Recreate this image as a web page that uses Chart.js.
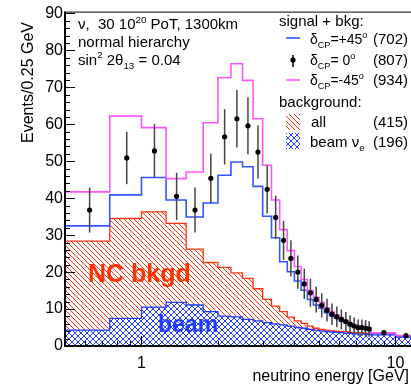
<!DOCTYPE html>
<html>
<head>
<meta charset="utf-8">
<script src="https://cdn.jsdelivr.net/npm/chart.js@4.4.1/dist/chart.umd.min.js"></script>
<style>
  html, body { margin: 0; padding: 0; background: #fff; overflow: hidden; }
  #wrap { width: 411px; height: 390px; overflow: hidden; }
</style>
</head>
<body>
<div id="wrap"><canvas id="chart" width="420" height="390"></canvas></div>
<script>
// bin edges in GeV: 0.25 GeV bins up to 8, then two wide bins
const binEdges = [0.5, 0.75, 1.0, 1.25, 1.5, 1.75, 2.0, 2.25, 2.5, 2.75, 3.0, 3.25, 3.5, 3.75, 4.0,
  4.25, 4.5, 4.75, 5.0, 5.25, 5.5, 5.75, 6.0, 6.25, 6.5, 6.75, 7.0, 7.25, 7.5, 7.75, 8.0, 10, 12];

// signal + bkg, events / 0.25 GeV
const plus45 = [32.5, 40.9, 45.6, 39.5, 34.9, 38.7, 46.2, 49.8, 48.5, 43.2, 35.1, 29.3, 22.8, 20.1, 17.6, 15.1,
  12.6, 11.1, 10.2, 9.0, 8.1, 7.5, 6.8, 6.3, 5.7, 5.2, 5.0, 5.0, 4.9, 4.7, 3.2, 2.5];
const minus45 = [41.7, 62.2, 59.1, 45.3, 47.1, 60.4, 72.6, 76.4, 71.9, 61.5, 48.9, 39.5, 31.5, 25.8, 21.5, 18.0,
  15.0, 13.2, 11.8, 10.3, 9.2, 8.4, 7.6, 6.9, 6.2, 5.7, 5.4, 5.3, 5.2, 5.0, 3.6, 2.8];
const zero = [36.8, 50.9, 52.8, 40.5, 36.8, 45.4, 56.6, 61.5, 59.6, 52.5, 42.4, 34.8, 28.6, 23.7, 20.0, 16.8,
  14.4, 12.6, 11.0, 9.7, 8.6, 7.9, 7.2, 6.6, 5.9, 5.4, 5.0, 5.0, 4.8, 4.6, 3.6, 2.8];
const zeroErr = [6.1, 7.1, 7.3, 6.4, 6.1, 6.7, 7.5, 7.8, 7.7, 7.2, 6.5, 5.9, 5.3, 4.9, 4.5, 4.1,
  3.8, 3.5, 3.3, 3.1, 2.9, 2.8, 2.7, 2.6, 2.4, 2.3, 2.2, 2.2, 2.2, 2.1, 0.7, 0.6];

// backgrounds
const bkgAll = [28.4, 34.5, 36.3, 33.2, 26.2, 22.6, 21.3, 19.8, 18.3, 15.5, 12.6, 10.8, 9.3, 7.8, 6.8, 6.1,
  5.4, 4.8, 4.5, 4.3, 4.1, 4.0, 3.9, 3.9, 3.7, 3.6, 3.6, 3.6, 3.4, 3.4, 3.2, 2.5];
const bkgBeam = [4.3, 7.5, 10.5, 11.8, 11.1, 9.3, 8.1, 7.9, 7.2, 6.8, 6.3, 6.0, 5.7, 5.4, 5.0, 4.8,
  4.5, 4.3, 4.1, 3.9, 3.8, 3.7, 3.6, 3.5, 3.4, 3.3, 3.3, 3.2, 3.2, 3.1, 3.0, 2.4];

const xTickLabels = [1, 10];
const yTickLabels = [0, 10, 20, 30, 40, 50, 60, 70, 80, 90];

const FONT = '"Liberation Sans", Arial, Helvetica, sans-serif';
const BLUE = '#3355ff';
const MAGENTA = '#ff55ff';
const RED = '#ff3311';
const XBLUE = '#1f3cff';

// histogram as step line: one point per edge, value of the bin to its left
function histPoints(vals) {
  return binEdges.map((e, i) => ({ x: e, y: vals[Math.max(i - 1, 0)] }));
}
function centers() {
  return zero.map((v, i) => ({ x: (binEdges[i] + binEdges[i + 1]) / 2, y: v }));
}

function hatch(color, size, cross, bg) {
  const c = document.createElement('canvas');
  c.width = c.height = size;
  const g = c.getContext('2d');
  if (bg) { g.fillStyle = bg; g.fillRect(0, 0, size, size); }
  g.strokeStyle = color;
  g.lineWidth = 1;
  g.beginPath();
  g.moveTo(-1, -1); g.lineTo(size + 1, size + 1);
  g.moveTo(-1, size - 1); g.lineTo(1, size + 1);
  g.moveTo(size - 1, -1); g.lineTo(size + 1, 1);
  if (cross) {
    g.moveTo(-1, size + 1); g.lineTo(size + 1, -1);
    g.moveTo(-1, 1); g.lineTo(1, -1);
    g.moveTo(size - 1, size + 1); g.lineTo(size + 1, size - 1);
  }
  g.stroke();
  return g.createPattern(c, 'repeat');
}
const redHatch = hatch(RED, 5, false, null);
const blueCross = hatch(XBLUE, 6, true, '#fff');

// text with sub/superscripts: parts = [[text, 'sub'|'sup'|undefined], ...]
function rich(ctx, x, y, parts, size) {
  let cx = x;
  for (const [t, mode] of parts) {
    const s = mode ? size * 0.65 : size;
    const dy = mode === 'sub' ? size * 0.3 : mode === 'sup' ? -size * 0.42 : 0;
    ctx.font = s + 'px ' + FONT;
    ctx.fillText(t, cx, y + dy);
    cx += ctx.measureText(t).width;
  }
}

const rootFrame = {
  id: 'rootFrame',
  beforeDatasetDraw(chart, args) {
    if (args.index !== 0) return;
    const ctx = chart.ctx, xs = chart.scales.x, ys = chart.scales.y;
    ctx.save();
    ctx.strokeStyle = '#444';
    ctx.lineWidth = 1.5;
    zero.forEach((v, i) => {
      const px = xs.getPixelForValue((binEdges[i] + binEdges[i + 1]) / 2);
      ctx.beginPath();
      ctx.moveTo(px, ys.getPixelForValue(v - zeroErr[i]));
      ctx.lineTo(px, ys.getPixelForValue(v + zeroErr[i]));
      ctx.stroke();
    });
    ctx.restore();
  },
  afterDatasetsDraw(chart) {
    const ctx = chart.ctx, xs = chart.scales.x, ys = chart.scales.y;
    const a = chart.chartArea;
    ctx.save();

    // big labels
    ctx.textAlign = 'left';
    ctx.textBaseline = 'alphabetic';
    ctx.fillStyle = '#ff3300';
    ctx.font = 'bold 25px ' + FONT;
    ctx.fillText('NC bkgd', 88, 282);
    ctx.fillStyle = XBLUE;
    ctx.font = 'bold 23px ' + FONT;
    ctx.fillText('beam', 158, 332);

    // ticks (inward)
    ctx.strokeStyle = '#000';
    ctx.lineWidth = 1;
    ctx.beginPath();
    for (let k = 0; k <= 45; k++) {
      const y = Math.round(ys.getPixelForValue(k * 2)) + 0.5;
      const len = k % 5 === 0 ? 10 : 5;
      ctx.moveTo(a.left, y); ctx.lineTo(a.left + len, y);
    }
    [0.1, 1, 10].forEach(d => {
      for (let m = 1; m <= 9; m++) {
        const v = m * d;
        if (v < 0.5 || v > 12) continue;
        const x = Math.round(xs.getPixelForValue(v)) + 0.5;
        const len = m === 1 ? 10 : 5;
        ctx.moveTo(x, a.bottom); ctx.lineTo(x, a.bottom - len);
      }
    });
    ctx.stroke();

    // frame
    ctx.beginPath();
    ctx.moveTo(a.left, a.top + 0.5); ctx.lineTo(a.right, a.top + 0.5);
    ctx.stroke();
    ctx.lineWidth = 2;
    ctx.beginPath();
    ctx.moveTo(a.left, a.top); ctx.lineTo(a.left, a.bottom); ctx.lineTo(a.right, a.bottom);
    ctx.stroke();

    // axis titles
    ctx.fillStyle = '#000';
    ctx.font = '16px ' + FONT;
    ctx.textAlign = 'right';
    ctx.fillText('neutrino energy [GeV]', 409, 381);
    ctx.save();
    ctx.translate(33, 22);
    ctx.rotate(-Math.PI / 2);
    ctx.fillText('Events/0.25 GeV', 0, 0);
    ctx.restore();

    // top-left info
    ctx.textAlign = 'left';
    rich(ctx, 78, 29, [['\u03bd,  30 10'], ['20', 'sup'], [' PoT, 1300km']], 15);
    rich(ctx, 78, 46.5, [['normal hierarchy']], 15);
    rich(ctx, 78, 64.5, [['sin'], ['2', 'sup'], [' 2\u03b8'], ['13', 'sub'], [' = 0.04']], 15);

    // legend
    rich(ctx, 279, 26, [['signal + bkg:']], 15);
    rich(ctx, 310, 43.5, [['\u03b4'], ['CP', 'sub'], ['=+45'], ['o', 'sup']], 14);
    rich(ctx, 373, 43.5, [['(702)']], 15);
    rich(ctx, 310, 64.5, [['\u03b4'], ['CP', 'sub'], ['= 0'], ['o', 'sup']], 14);
    rich(ctx, 373, 64.5, [['(807)']], 15);
    rich(ctx, 310, 85, [['\u03b4'], ['CP', 'sub'], ['=-45'], ['o', 'sup']], 14);
    rich(ctx, 373, 85, [['(934)']], 15);
    rich(ctx, 279, 107, [['background:']], 15);
    rich(ctx, 311, 127, [['all']], 15);
    rich(ctx, 373, 127, [['(415)']], 15);
    rich(ctx, 310, 146.5, [['beam \u03bd'], ['e', 'sub']], 15);
    rich(ctx, 373, 146.5, [['(196)']], 15);

    // legend symbols
    ctx.lineWidth = 1.6;
    ctx.strokeStyle = BLUE;
    ctx.beginPath(); ctx.moveTo(286, 38); ctx.lineTo(300, 38); ctx.stroke();
    ctx.strokeStyle = MAGENTA;
    ctx.beginPath(); ctx.moveTo(286, 80); ctx.lineTo(300, 80); ctx.stroke();
    ctx.strokeStyle = '#000';
    ctx.lineWidth = 1.5;
    ctx.beginPath(); ctx.moveTo(293, 55); ctx.lineTo(293, 67); ctx.stroke();
    ctx.fillStyle = '#000';
    ctx.beginPath(); ctx.arc(293, 60, 2.6, 0, Math.PI * 2); ctx.fill();
    ctx.fillStyle = redHatch;
    ctx.fillRect(286, 114, 14, 16);
    ctx.fillStyle = blueCross;
    ctx.fillRect(286, 133, 14, 16);

    ctx.restore();
  }
};

const lineBase = { pointRadius: 0, stepped: 'after', borderWidth: 1.6, tension: 0 };

new Chart(document.getElementById('chart'), {
  type: 'line',
  data: {
    datasets: [
      { label: 'dCP=0', data: centers(), showLine: false, pointRadius: 2.6,
        pointBackgroundColor: '#000', pointBorderWidth: 0, order: 0 },
      { ...lineBase, label: 'dCP=-45', data: histPoints(minus45), borderColor: MAGENTA, fill: false, order: 1 },
      { ...lineBase, label: 'dCP=+45', data: histPoints(plus45), borderColor: BLUE, fill: false, order: 2 },
      { ...lineBase, label: 'beam', data: histPoints(bkgBeam), borderColor: XBLUE, borderWidth: 1.3,
        backgroundColor: blueCross, fill: 'origin', order: 3 },
      { ...lineBase, label: 'all', data: histPoints(bkgAll), borderColor: RED, borderWidth: 1.3,
        backgroundColor: redHatch, fill: 'origin', order: 4 }
    ]
  },
  options: {
    responsive: false,
    animation: false,
    layout: { padding: { top: 10, left: 0, right: 4.4, bottom: 0 } },
    plugins: { legend: { display: false }, tooltip: { enabled: false } },
    scales: {
      x: {
        type: 'logarithmic', min: 0.5, max: 12,
        grid: { display: false, drawTicks: false }, border: { display: false },
        afterBuildTicks: s => { s.ticks = xTickLabels.map(v => ({ value: v })); },
        afterFit: s => { s.height = 44; },
        ticks: { color: '#000', font: { family: FONT, size: 16 }, padding: 8, maxRotation: 0,
          autoSkip: false, callback: v => String(v) }
      },
      y: {
        type: 'linear', min: 0, max: 90.5,
        grid: { display: false, drawTicks: false }, border: { display: false },
        afterBuildTicks: s => { s.ticks = yTickLabels.map(v => ({ value: v })); },
        afterFit: s => { s.width = 65; },
        ticks: { color: '#000', font: { family: FONT, size: 16 }, padding: 2 }
      }
    }
  },
  plugins: [rootFrame]
});
</script>
</body>
</html>
